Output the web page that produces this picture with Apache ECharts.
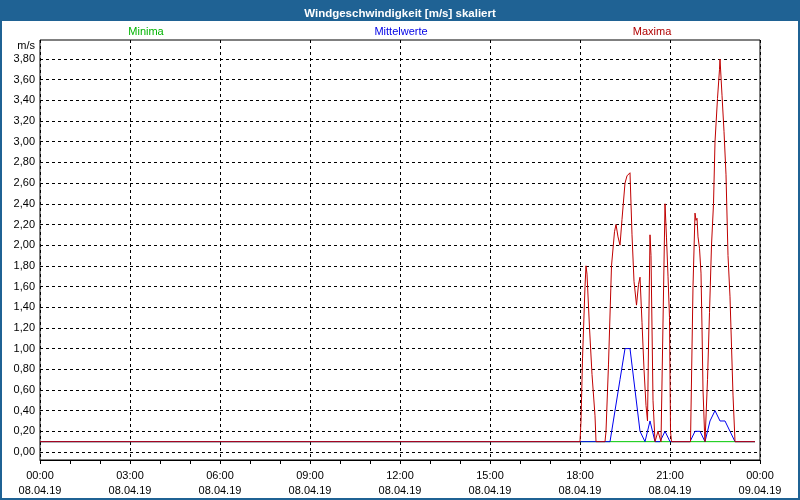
<!DOCTYPE html>
<html><head><meta charset="utf-8">
<script src="https://cdn.jsdelivr.net/npm/echarts/dist/echarts.min.js"></script>
<style>html,body{margin:0;padding:0;background:#fff}#c{width:800px;height:500px}</style>
</head><body><div id="c"></div>
<script>
// ---- data ----
const chartTitle = 'Windgeschwindigkeit [m/s] skaliert';
const seriesNames = ['Minima', 'Mittelwerte', 'Maxima'];
const xTimeLabels = ['00:00','03:00','06:00','09:00','12:00','15:00','18:00','21:00','00:00'];
const xDateLabels = ['08.04.19','08.04.19','08.04.19','08.04.19','08.04.19','08.04.19','08.04.19','08.04.19','09.04.19'];
const yTickLabels = ['0,00','0,20','0,40','0,60','0,80','1,00','1,20','1,40','1,60','1,80','2,00','2,20','2,40','2,60','2,80','3,00','3,20','3,40','3,60','3,80'];
const yUnit = 'm/s';

const minTimes  = ['00:00','18:00','23:50'];
const minValues = [0.1, 0.1, 0.1];

const meanTimes  = ['00:00','18:00','18:10','18:20','18:30','18:40','18:50','19:00','19:10','19:20','19:30','19:40','19:50','20:00','20:10','20:20','20:30','20:40','20:50','21:00','21:10','21:20','21:30','21:40','21:50','22:00','22:10','22:20','22:30','22:40','22:50','23:00','23:10','23:20','23:30','23:40','23:50'];
const meanValues = [0.1, 0.1, 0.1, 0.1, 0.1, 0.1, 0.1, 0.1, 0.4, 0.7, 1.0, 1.0, 0.6, 0.2, 0.1, 0.3, 0.1, 0.1, 0.2, 0.1, 0.1, 0.1, 0.1, 0.1, 0.2, 0.2, 0.1, 0.3, 0.4, 0.3, 0.3, 0.2, 0.1, 0.1, 0.1, 0.1, 0.1];

const maxTimes  = ['00:00','18:00','18:02','18:05','18:10','18:12','18:14','18:19','18:24','18:30','18:32','18:50','18:52','18:57','19:03','19:09','19:12','19:16','19:20','19:24','19:30','19:34','19:40','19:44','19:48','19:53','19:57','20:00','20:04','20:08','20:12','20:15','20:20','20:22','20:26','20:30','20:32','20:36','20:40','20:42','20:50','20:53','20:56','20:59','21:01','21:03','21:41','21:46','21:50','21:52','21:54','21:56','21:59','22:02','22:04','22:06','22:09','22:10','22:15','22:19','22:23','22:27','22:30','22:35','22:39','22:40','22:44','22:48','22:52','22:56','23:00','23:06','23:10','23:50'];
const maxValues = [0.1, 0.1, 0.3, 0.9, 1.6, 1.8, 1.72, 1.2, 0.75, 0.35, 0.1, 0.1, 0.2, 0.85, 1.8, 2.13, 2.2, 2.08, 2.0, 2.25, 2.6, 2.67, 2.7, 2.1, 1.65, 1.42, 1.62, 1.69, 1.25, 0.8, 0.45, 0.3, 2.1, 1.9, 0.5, 0.1, 0.1, 0.2, 0.2, 0.1, 2.4, 2.07, 1.7, 1.3, 0.2, 0.1, 0.1, 1.6, 2.31, 2.24, 2.26, 2.08, 1.97, 1.73, 1.2, 0.6, 0.2, 0.1, 0.7, 1.35, 2.0, 2.4, 3.0, 3.42, 3.7, 3.8, 3.45, 3.1, 2.68, 1.9, 1.5, 0.55, 0.1, 0.1];

// ---- helpers ----
function toMin(t) { const p = t.split(':'); return (+p[0]) * 60 + (+p[1]); }
function pairs(times, vals) { return times.map((t, i) => [toMin(t), vals[i]]); }

const FONT = 'Liberation Sans';
const BLUE_BAR = '#1f6294';
const colors = ['#00c800', '#0000f0', '#c00000'];
const textColors = ['#00b400', '#0000e6', '#b00000'];

const chart = echarts.init(document.getElementById('c'), null, {renderer: 'canvas'});
chart.setOption({
  animation: false,
  backgroundColor: '#fff',
  title: {
    text: chartTitle, left: 'center', top: 3,
    textStyle: {color: '#fff', fontSize: 11.5, fontWeight: 'bold', fontFamily: FONT}
  },
  graphic: [
    {type: 'rect', z: -10, shape: {x: 0, y: 0, width: 800, height: 21}, style: {fill: BLUE_BAR}},
    {type: 'rect', z: 100, shape: {x: 1, y: 1, width: 798, height: 498}, style: {fill: 'none', stroke: BLUE_BAR, lineWidth: 2}},
    {type: 'text', x: 146, y: 32, style: {text: seriesNames[0], fill: textColors[0], font: '11px "Liberation Sans"', textAlign: 'center', textVerticalAlign: 'middle'}},
    {type: 'text', x: 401, y: 32, style: {text: seriesNames[1], fill: textColors[1], font: '11px "Liberation Sans"', textAlign: 'center', textVerticalAlign: 'middle'}},
    {type: 'text', x: 652, y: 32, style: {text: seriesNames[2], fill: textColors[2], font: '11px "Liberation Sans"', textAlign: 'center', textVerticalAlign: 'middle'}},
    {type: 'text', x: 35, y: 46, style: {text: yUnit, fill: '#000', font: '11px "Liberation Sans"', textAlign: 'right', textVerticalAlign: 'middle'}}
  ],
  grid: [
    {left: 40, right: 40, top: 40, bottom: 40, show: true, borderColor: '#000', borderWidth: 1, backgroundColor: '#fff'},
    {left: 40, right: 40, top: 59, bottom: 48, show: false}
  ],
  xAxis: [
    {
      gridIndex: 0, type: 'value', min: 0, max: 1440, interval: 180,
      axisLine: {show: true, lineStyle: {color: '#000', width: 1}},
      axisTick: {show: true, length: 4, lineStyle: {color: '#000'}},
      minorTick: {show: true, splitNumber: 3, length: 4, lineStyle: {color: '#000'}},
      splitLine: {show: true, lineStyle: {color: '#000', type: [3, 3], width: 1}},
      axisLabel: {
        margin: 8, color: '#000', fontFamily: FONT, fontSize: 11, lineHeight: 15,
        formatter: v => { const i = Math.round(v / 180); return xTimeLabels[i] + '\n' + xDateLabels[i]; }
      }
    },
    {gridIndex: 1, type: 'value', min: 0, max: 1440, show: false}
  ],
  yAxis: [
    {gridIndex: 0, type: 'value', min: 0, max: 1, show: false},
    {
      gridIndex: 1, type: 'value', min: 0, max: 3.8, interval: 0.2,
      axisLine: {show: false}, axisTick: {show: false},
      splitLine: {show: true, lineStyle: {color: '#000', type: [3, 3], width: 1}},
      axisLabel: {
        margin: 5, color: '#000', fontFamily: FONT, fontSize: 11,
        formatter: v => yTickLabels[Math.round(v / 0.2)]
      }
    }
  ],
  series: [
    {name: seriesNames[0], type: 'line', xAxisIndex: 1, yAxisIndex: 1, data: pairs(minTimes, minValues), symbol: 'none', lineStyle: {color: colors[0], width: 1}, z: 2},
    {name: seriesNames[1], type: 'line', xAxisIndex: 1, yAxisIndex: 1, data: pairs(meanTimes, meanValues), symbol: 'none', lineStyle: {color: colors[1], width: 1}, z: 3},
    {name: seriesNames[2], type: 'line', xAxisIndex: 1, yAxisIndex: 1, data: pairs(maxTimes, maxValues), symbol: 'none', lineStyle: {color: colors[2], width: 1}, z: 4}
  ]
});
</script>
</body></html>
